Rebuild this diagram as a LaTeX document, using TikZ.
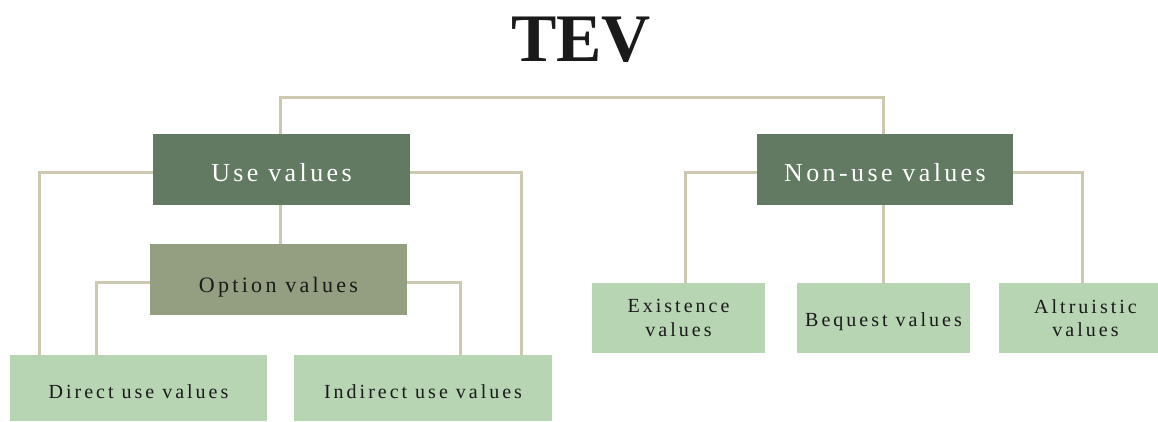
\documentclass[tikz,border=0pt]{standalone}
\usepackage{fontspec}
\setmainfont{Liberation Serif}
\newfontfamily\spacedfont[LetterSpace=15]{Liberation Serif}
\newfontfamily\headfont[LetterSpace=13]{Liberation Serif}
\usepackage{tikz}
\usetikzlibrary{positioning}
\definecolor{darkleaf}{HTML}{627A62}
\definecolor{sage}{HTML}{949E80}
\definecolor{mint}{HTML}{B7D4B3}
\definecolor{stalk}{HTML}{CDC8B0}
\definecolor{ink}{HTML}{1A1A1A}

\begin{document}
\begin{tikzpicture}[x=1pt,y=-1pt]
                \tikzset{main/.style = {fill=darkleaf, text=white, inner sep=0pt, minimum width=257pt, minimum height=71pt, text height=23pt, text depth=0pt, font=\headfont\fontsize{26}{30}\selectfont}}
                \tikzset{mid/.style = {fill=sage, text=ink, inner sep=0pt, minimum width=257pt, minimum height=71pt, text height=25pt, text depth=0pt, font=\spacedfont\fontsize{22}{26}\selectfont}}
                \tikzset{leaf/.style = {fill=mint, text=ink, inner sep=0pt, minimum height=70pt, align=center, font=\spacedfont\fontsize{20}{23.5}\selectfont}}
                \tikzset{link/.style = {draw=stalk, line width=3pt}}

                \useasboundingbox (0,0) rectangle (1158,421);
                \clip (0,0) rectangle (1158,421);

                \node[text=ink, font=\bfseries\fontsize{68}{72}\selectfont] (tev) at (581,40) {TEV};
                \coordinate (top) at (582,97);

                \node[main] (use) at (281.5,169.5) {Use values};
                \node[main, minimum width=256pt] (nonuse) at (885,169.5) {Non-use values};
                \node[mid] (option) at (278.5,279.5) {Option values};

                \node[leaf, minimum width=257pt, minimum height=66pt, text height=20pt, text depth=0pt] (direct) at (138.5,388) {Direct use values};
                \node[leaf, minimum width=258pt, minimum height=66pt, text height=20pt, text depth=0pt] (indirect) at (423,388) {Indirect use values};

                \node[leaf, minimum width=173pt] (exist) at (678.5,318) {Existence\\values};
                \node[leaf, minimum width=173pt, text height=16pt, text depth=0pt] (bequest) at (883.5,318) {Bequest values};
                \node[leaf, minimum width=173pt] (altru) at (1085.5,318) {Altruistic\\values};

                % connectors
                \draw[link] ([xshift=-1.5pt]use.north) -- ([xshift=-1.5pt]use.north |- top) -| ([xshift=-2pt]nonuse.north);

                \draw[link] ([yshift=-2.5pt]use.west) -| ([xshift=30pt]direct.north west);
                \draw[link] ([yshift=-3pt]use.east) -| ([xshift=-31pt]indirect.north east);
                \draw[link] ([xshift=-1.5pt]use.south) -- ([xshift=-1.5pt]use.south |- option.north);

                \draw[link] ([yshift=-2.5pt]option.west) -| ([xshift=87pt]direct.north west);
                \draw[link] ([yshift=-2.5pt]option.east) -| ([xshift=167pt]indirect.north west);

                \draw[link] ([yshift=-2.5pt]nonuse.west) -| ([xshift=94pt]exist.north west);
                \draw[link] ([xshift=-2pt]nonuse.south) -- ([xshift=-2pt]nonuse.south |- bequest.north);
                \draw[link] ([yshift=-3pt]nonuse.east) -| ([xshift=84pt]altru.north west);

\end{tikzpicture}
\end{document}
